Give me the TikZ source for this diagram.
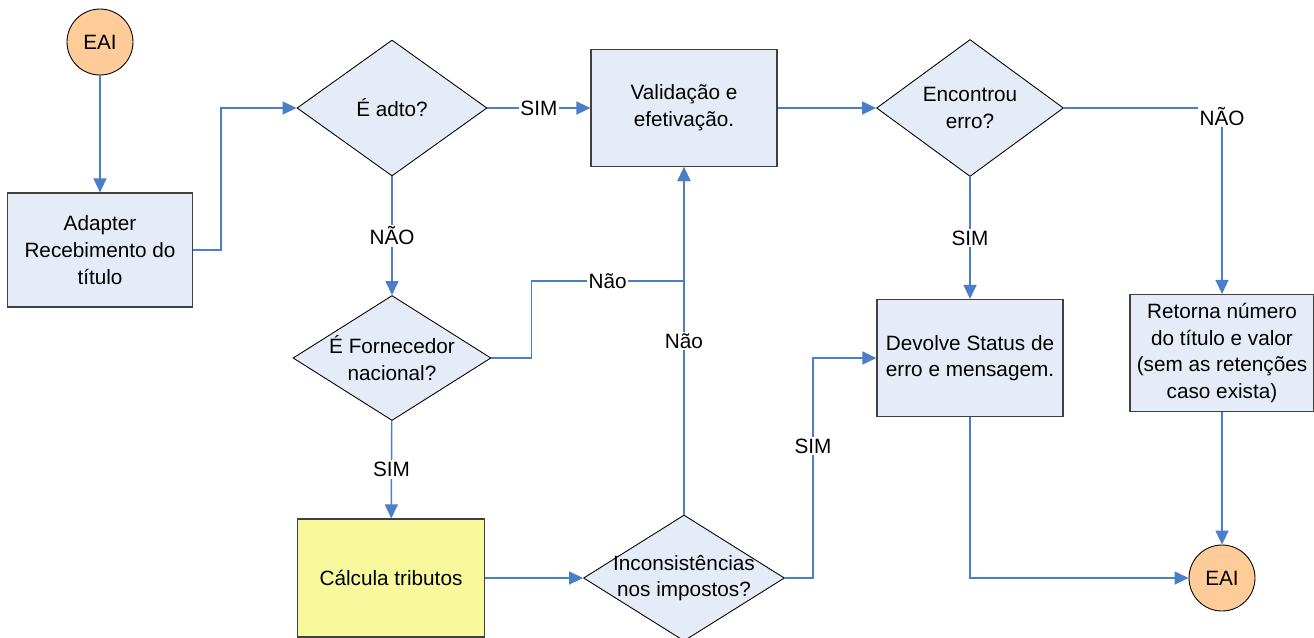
\documentclass[tikz,border=0pt]{standalone}
\usepackage{fontspec}
\setmainfont{Liberation Sans}
\usetikzlibrary{shapes.geometric,arrows.meta}
\definecolor{caixaazul}{RGB}{230,236,247}
\definecolor{linhaazul}{RGB}{74,126,200}
\definecolor{laranja}{RGB}{255,204,153}
\definecolor{amarelo}{RGB}{248,248,157}
\definecolor{bordacinza}{RGB}{64,64,64}

\begin{document}
\begin{tikzpicture}[x=0.02cm,y=-0.02cm,
		every node/.style={font=\fontsize{11.8}{15.2}\selectfont},
		caixa/.style={draw=bordacinza,fill=caixaazul,line width=0.7pt,align=center,minimum width=3.72cm,minimum height=2.34cm,inner sep=0pt},
		decisao/.style={diamond,draw=black,fill=caixaazul,line width=0.5pt,inner sep=0pt},
		terminal/.style={circle,draw=black,fill=laranja,line width=0.5pt,minimum size=1.32cm,inner sep=0pt},
		fluxo/.style={draw=linhaazul,line width=0.8pt,-{Triangle[length=0.28cm,width=0.26cm]}},
		rotulo/.style={fill=white,inner sep=1pt}]
		\useasboundingbox (0,0) rectangle (1314,637);

		\node[terminal] (eaiA) at (100,42) {EAI};
		\node[caixa,minimum width=3.7cm,minimum height=2.28cm] (adapter) at (100,250) {Adapter\\Recebimento do\\título};
		\node[decisao,minimum width=3.8cm,minimum height=2.72cm,label={center:É adto?}] (adto) at (392,108) {};
		\node[caixa] (valid) at (684,108) {Validação e\\efetivação.};
		\node[decisao,minimum width=3.74cm,minimum height=2.74cm,label={[align=center]center:Encontrou\\erro?}] (encontrou) at (970,108) {};
		\node[decisao,minimum width=3.96cm,minimum height=2.5cm,label={[align=center]center:É Fornecedor\\nacional?}] (forn) at (392,358) {};
		\node[caixa,fill=amarelo,minimum width=3.74cm,minimum height=2.36cm] (calc) at (391,578) {Cálcula tributos};
		\node[decisao,minimum width=4.02cm,minimum height=2.52cm,label={[align=center]center:Inconsistências\\nos impostos?}] (incons) at (684,578) {};
		\node[caixa] (devolve) at (970,358) {Devolve Status de\\erro e mensagem.};
		\node[caixa,minimum width=3.68cm] (retorna) at (1222,353) {Retorna número\\do título e valor\\(sem as retenções\\caso exista)};
		\node[terminal] (eaiB) at (1222,578) {EAI};
		\coordinate (juncao) at (684,281);

		\draw[fluxo] (eaiA) -- (adapter);
		\draw[fluxo] (adapter.east) -- ++(28,0) |- (adto);
		\draw[fluxo] (adto) -- node[rotulo]{SIM} (valid);
		\draw[fluxo] (adto) -- node[rotulo]{NÃO} (forn);
		\draw[fluxo] (forn.east) -- ++(40,0) |- node[rotulo,pos=0.75]{Não} (juncao) -- (valid);
		\draw[fluxo] (forn) -- node[rotulo]{SIM} (calc);
		\draw[fluxo] (calc) -- (incons);
		\draw[fluxo] (incons) -- node[rotulo]{Não} (valid);
		\draw[fluxo] (incons.east) -- ++(28,0) |- node[rotulo,pos=0.3]{SIM} (devolve);
		\draw[fluxo] (valid) -- (encontrou);
		\draw[fluxo] (encontrou) -- node[rotulo]{SIM} (devolve);
		\draw[fluxo] (encontrou) -| node[rotulo,yshift=-0.16cm]{NÃO} (retorna);
		\draw[fluxo] (devolve) |- (eaiB);
		\draw[fluxo] (retorna) -- (eaiB);
	\end{tikzpicture}
\end{document}
